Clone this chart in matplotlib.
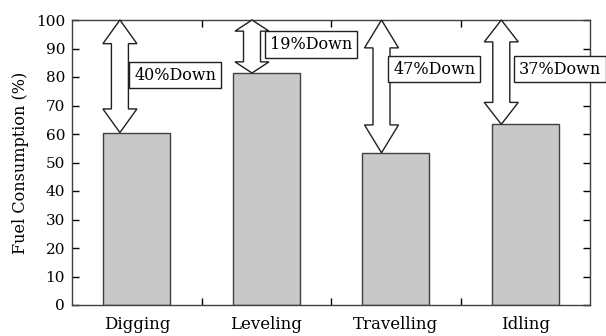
import matplotlib
matplotlib.use("Agg")
import matplotlib.pyplot as plt
import numpy as np
from matplotlib.patches import Polygon
from matplotlib.ticker import MultipleLocator, FixedLocator

categories = ["Digging", "Leveling", "Travelling", "Idling"]
fuel = [60.5, 81.4, 53.4, 63.4]
labels = ["40%Down", "19%Down", "47%Down", "37%Down"]
arrow_x = [-0.13, 0.89, 1.89, 2.815]
label_x = [-0.02, 1.03, 1.98, 2.95]
label_y = [80.7, 91.4, 82.8, 82.8]
baseline = 100

plt.rcParams['font.family'] = ['DejaVu Serif']
fig = plt.figure(figsize=(6.06, 3.36), dpi=100)
W, H = 606, 336
ax = fig.add_axes([72 / W, (H - 305) / H, 518 / W, 285 / H])

x = np.arange(len(categories))
ax.bar(x, fuel, width=0.515, color="#c8c8c8", edgecolor="#404040", linewidth=1.0, zorder=2)
ax.set_xlim(-0.5, 3.5)
ax.set_ylim(0, 100)

ax.set_xticks(x)
ax.set_xticklabels(categories, fontsize=12)
ax.xaxis.set_minor_locator(FixedLocator([0.5, 1.5, 2.5]))
ax.tick_params(axis='x', which='major', length=0, pad=8)
ax.tick_params(axis='x', which='minor', direction='in', length=5, top=True, bottom=True, width=1.0)
ax.yaxis.set_major_locator(MultipleLocator(10))
ax.tick_params(axis='y', which='major', direction='in', length=5, left=True, right=True, labelsize=11, pad=5, width=1.0)
ax.set_ylabel("Fuel Consumption (%)", fontsize=11.5, labelpad=5)
for s in ax.spines.values():
    s.set_color("#404040")
    s.set_linewidth(1.0)

fig.canvas.draw()
inv = ax.transData.inverted()

def double_arrow(xc, ytop, ybot):
    (px, pt) = ax.transData.transform((xc, ytop))
    (_, pb) = ax.transData.transform((xc, ybot))
    L = pt - pb
    hl = 0.21 * L
    hw = 17
    sw = 8.5
    pts = [
        (px, pt), (px + hw, pt - hl), (px + sw, pt - hl),
        (px + sw, pb + hl), (px + hw, pb + hl), (px, pb),
        (px - hw, pb + hl), (px - sw, pb + hl), (px - sw, pt - hl),
        (px - hw, pt - hl),
    ]
    data_pts = inv.transform(pts)
    ax.add_patch(Polygon(data_pts, closed=True, facecolor="white", edgecolor="#202020",
                         linewidth=1.0, zorder=3, clip_on=False))

for xa, v, lx, ly, t in zip(arrow_x, fuel, label_x, label_y, labels):
    double_arrow(xa, baseline, v)
    ax.text(lx, ly, t, fontsize=11.5, ha='left', va='center', zorder=4,
            bbox=dict(boxstyle='square,pad=0.3', facecolor='white', edgecolor='#202020', linewidth=1.0),
            clip_on=False)

fig.savefig("out.png", dpi=100)
